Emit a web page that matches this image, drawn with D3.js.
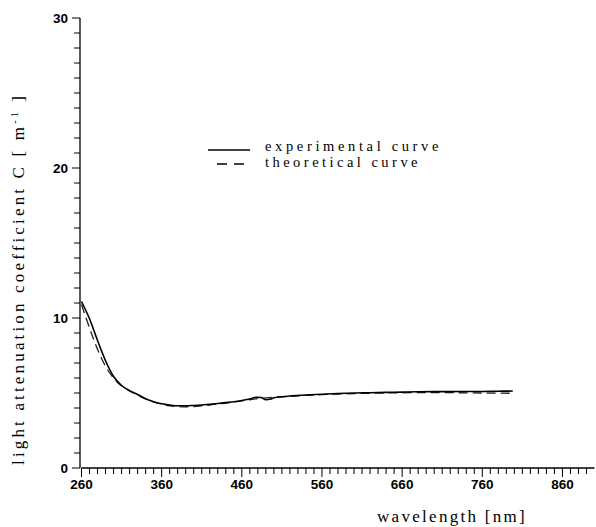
<!DOCTYPE html>
<html><head><meta charset="utf-8">
<script src="https://cdn.jsdelivr.net/npm/d3@7"></script>
<style>body{margin:0;background:#fff}svg{display:block}</style>
</head><body>
<svg id="c" width="596" height="527"></svg>
<script>
const expWl = [260,270,280,290,300,310,320,330,340,350,360,370,380,390,400,410,420,430,440,450,460,470,478,484,490,496,500,510,520,540,560,580,600,620,640,660,680,700,720,740,760,780,798];
const expC  = [11.1,9.95,8.5,7.15,6.1,5.5,5.15,4.9,4.62,4.42,4.28,4.2,4.15,4.15,4.17,4.2,4.25,4.3,4.36,4.42,4.5,4.6,4.72,4.7,4.55,4.6,4.68,4.75,4.8,4.87,4.92,4.97,5.0,5.02,5.04,5.06,5.08,5.09,5.09,5.1,5.1,5.12,5.13];
const theoWl = [260,265,275,285,295,305,315,325,340,350,360,370,380,390,400,410,420,430,440,450,460,470,480,490,500,520,540,560,580,600,640,680,720,760,798];
const theoC  = [10.9,10.1,8.6,7.3,6.35,5.7,5.3,5.0,4.6,4.4,4.25,4.15,4.1,4.08,4.1,4.15,4.2,4.27,4.33,4.4,4.47,4.55,4.62,4.67,4.72,4.78,4.84,4.89,4.93,4.96,5.0,5.02,5.02,5.0,4.98];
const xMajor = [260,360,460,560,660,760,860];
const yMajor = [0,10,20,30];
const legendLabels = ["experimental curve","theoretical curve"];

const svg = d3.select("#c");
const x = d3.scaleLinear().domain([260,900]).range([81.5,594.5]);
const y = d3.scaleLinear().domain([0,30]).range([468,18]);
const serif = "'Liberation Serif', 'Times New Roman', serif";

function fitWidth(sel, target){
  sel.each(function(){
    const n = this.getNumberOfChars();
    const L = this.getComputedTextLength();
    d3.select(this).attr("letter-spacing", ((target - L)/n).toFixed(2));
  });
}

// x axis
const xMinor = d3.range(260,900,10);
const xAx = svg.append("g").attr("transform","translate(0,468)");
xAx.append("line").attr("x1",x(260)).attr("x2",x(900)).attr("stroke","#000").attr("stroke-width",1.3);
xAx.selectAll("line.t").data(xMinor).join("line").attr("class","t")
  .attr("x1",d=>x(d)).attr("x2",d=>x(d)).attr("y1",0)
  .attr("y2",d=>xMajor.includes(d)?9:6).attr("stroke","#000").attr("stroke-width",1);
xAx.selectAll("text").data(xMajor).join("text")
  .attr("x",d=>x(d)).attr("y",21).attr("text-anchor","middle")
  .attr("font-family","'Liberation Sans', Arial, sans-serif").attr("font-size",13.5).attr("font-weight","bold")
  .text(d=>d);

// y axis
const yMinor = d3.range(0,31,1);
const yAx = svg.append("g").attr("transform","translate(80,0)");
yAx.append("line").attr("y1",y(0)).attr("y2",y(30)).attr("stroke","#000").attr("stroke-width",1.3);
yAx.selectAll("line.t").data(yMinor).join("line").attr("class","t")
  .attr("y1",d=>y(d)).attr("y2",d=>y(d)).attr("x1",0)
  .attr("x2",d=>yMajor.includes(d)?-8:-6).attr("stroke","#000").attr("stroke-width",1);
yAx.selectAll("text").data(yMajor).join("text")
  .attr("x",-12).attr("y",d=>y(d)+4.5).attr("text-anchor","end")
  .attr("font-family","'Liberation Sans', Arial, sans-serif").attr("font-size",13.5).attr("font-weight","bold")
  .text(d=>d);

// curves
const line = d3.line().x(d=>x(d[0])).y(d=>y(d[1])).curve(d3.curveMonotoneX);
svg.append("path").datum(theoWl.map((w,i)=>[w,theoC[i]])).attr("d",line)
  .attr("fill","none").attr("stroke","#222").attr("stroke-width",1.3).attr("stroke-dasharray","9,5");
svg.append("path").datum(expWl.map((w,i)=>[w,expC[i]])).attr("d",line)
  .attr("fill","none").attr("stroke","#000").attr("stroke-width",1.6);

// legend
const lg = svg.append("g");
lg.append("line").attr("x1",208).attr("x2",250).attr("y1",150).attr("y2",150).attr("stroke","#000").attr("stroke-width",1.5);
lg.append("line").attr("x1",217).attr("x2",250).attr("y1",164).attr("y2",164).attr("stroke","#000").attr("stroke-width",1.3).attr("stroke-dasharray","10,7");
const legendWidths = [177,156];
lg.selectAll("text").data(legendLabels).join("text")
  .attr("x",265).attr("y",(d,i)=>151+i*16)
  .attr("font-family",serif).attr("font-size",14.5)
  .text(d=>d)
  .each(function(d,i){ fitWidth(d3.select(this), legendWidths[i]); });

// axis titles
svg.append("text").attr("x",377).attr("y",522)
  .attr("font-family",serif).attr("font-size",17)
  .text("wavelength [nm]").call(fitWidth,150);
const yt = svg.append("text").attr("transform","translate(24,465) rotate(-90)")
  .attr("font-family",serif).attr("font-size",17);
yt.append("tspan").text("light attenuation coefficient C [ m");
yt.append("tspan").attr("dy",-6).attr("font-size",10).text("-1");
yt.append("tspan").attr("dy",6).text(" ]");
yt.call(fitWidth,372);
</script>
</body></html>
